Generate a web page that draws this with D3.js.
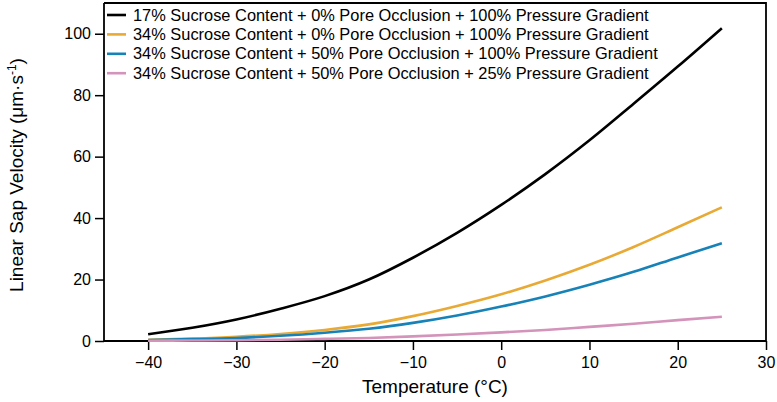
<!DOCTYPE html>
<html>
<head>
<meta charset="utf-8">
<script src="https://cdn.jsdelivr.net/npm/d3@7"></script>
<style>
  html, body { margin: 0; padding: 0; background: #fff; }
  svg { display: block; font-family: "Liberation Sans", Arial, sans-serif; }
</style>
</head>
<body>
<svg id="chart" width="777" height="402"></svg>
<script>
const temperature = [-40, -35, -30, -25, -20, -15, -10, -5, 0, 5, 10, 15, 20, 25];
const sucrose17_occ0_p100 = [2.2, 4.3, 7.0, 10.5, 14.6, 20.0, 27.1, 35.2, 44.3, 54.3, 65.3, 77.2, 89.3, 101.8];
const sucrose34_occ0_p100 = [0.4, 0.8, 1.4, 2.3, 3.6, 5.4, 8.1, 11.4, 15.2, 19.7, 24.8, 30.6, 37.0, 43.5];
const sucrose34_occ50_p100 = [0.3, 0.6, 1.0, 1.7, 2.7, 4.0, 5.9, 8.3, 11.2, 14.5, 18.3, 22.5, 27.2, 31.8];
const sucrose34_occ50_p25 = [0.08, 0.15, 0.25, 0.43, 0.68, 1.0, 1.5, 2.1, 2.8, 3.6, 4.6, 5.6, 6.8, 7.9];
const seriesNames = [
  "17% Sucrose Content + 0% Pore Occlusion + 100% Pressure Gradient",
  "34% Sucrose Content + 0% Pore Occlusion + 100% Pressure Gradient",
  "34% Sucrose Content + 50% Pore Occlusion + 100% Pressure Gradient",
  "34% Sucrose Content + 50% Pore Occlusion + 25% Pressure Gradient"
];
const seriesColors = ["#000000", "#E8A935", "#1782B7", "#D393BA"];
const xTicks = [-40, -30, -20, -10, 0, 10, 20, 30];
const yTicks = [0, 20, 40, 60, 80, 100];
const xTitle = "Temperature (°C)";
const yTitle = "Linear Sap Velocity (μm·s";

const seriesValues = [sucrose17_occ0_p100, sucrose34_occ0_p100, sucrose34_occ50_p100, sucrose34_occ50_p25];

const svg = d3.select("#chart");
const mLeft = 104, mRight = 766, mTop = 3, mBottom = 341;

const x = d3.scaleLinear().domain([-45, 30]).range([mLeft, mRight]);
const y = d3.scaleLinear().domain([0, 110]).range([mBottom, mTop]);

// frame: top & right
svg.append("path")
  .attr("d", `M${mLeft},${mTop}H${mRight}V${mBottom}`)
  .attr("fill", "none").attr("stroke", "#000").attr("stroke-width", 1.8);

const xAxis = svg.append("g").attr("transform", `translate(0,${mBottom})`)
  .call(d3.axisBottom(x).tickValues(xTicks).tickSize(9).tickPadding(7).tickSizeOuter(0));
const yAxis = svg.append("g").attr("transform", `translate(${mLeft},0)`)
  .call(d3.axisLeft(y).tickValues(yTicks).tickSize(9).tickPadding(4).tickSizeOuter(0));

[xAxis, yAxis].forEach(g => {
  g.selectAll("path.domain").attr("stroke", "#000").attr("stroke-width", 1.8);
  g.selectAll(".tick line").attr("stroke", "#000").attr("stroke-width", 1.5);
  g.selectAll(".tick text").attr("fill", "#000")
    .style("font-size", "16px").style("font-family", "Liberation Sans, Arial, sans-serif");
});
xAxis.select("path.domain").attr("d", `M${mLeft},0H${mRight}`);
yAxis.select("path.domain").attr("d", `M0,${mTop}V${mBottom}`);

const line = d3.line()
  .x((d, i) => x(temperature[i]))
  .y(d => y(d))
  .curve(d3.curveMonotoneX);

seriesValues.forEach((vals, k) => {
  svg.append("path")
    .datum(vals)
    .attr("d", line)
    .attr("fill", "none")
    .attr("stroke", seriesColors[k])
    .attr("stroke-width", 2.6)
    .attr("stroke-linecap", "butt");
});

// legend
const legend = svg.append("g");
seriesNames.forEach((name, k) => {
  const cy = 15 + k * 19.4;
  legend.append("line")
    .attr("x1", 107).attr("x2", 126)
    .attr("y1", cy).attr("y2", cy)
    .attr("stroke", seriesColors[k]).attr("stroke-width", 2.6);
  legend.append("text")
    .attr("x", 133).attr("y", cy + 5.5)
    .attr("fill", "#000")
    .style("font-size", "16.4px")
    .text(name);
});

// axis titles
svg.append("text")
  .attr("x", (mLeft + mRight) / 2).attr("y", 393)
  .attr("text-anchor", "middle")
  .style("font-size", "19px")
  .text(xTitle);

const yt = svg.append("text")
  .attr("transform", `translate(23,${(mTop + mBottom) / 2 + 3}) rotate(-90)`)
  .attr("text-anchor", "middle")
  .style("font-size", "19px");
yt.append("tspan").text(yTitle);
yt.append("tspan").attr("dy", -7).style("font-size", "12px").text("-1");
yt.append("tspan").attr("dy", 7).text(")");
</script>
</body>
</html>
